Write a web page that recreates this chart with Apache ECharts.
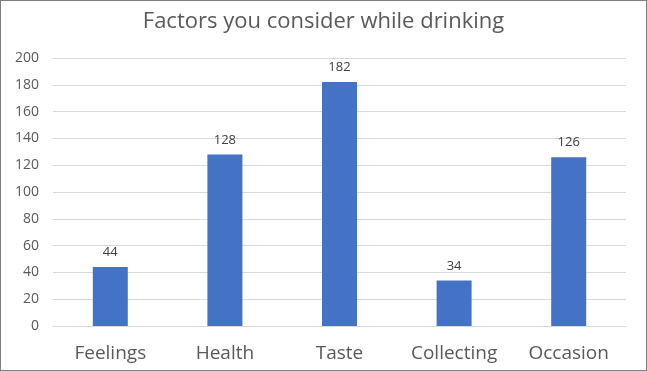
<!DOCTYPE html>
<html><head><meta charset="utf-8">
<script src="https://cdn.jsdelivr.net/npm/echarts@6/dist/echarts.min.js"></script>
<style>html,body{margin:0;padding:0;background:#fff}#c{width:645px;height:369px;border:1px solid #7f7f7f}</style>
</head><body><div id="c"></div>
<script>
var categories = ['Feelings','Health','Taste','Collecting','Occasion'];
var values = [44,128,182,34,126];
var chart = echarts.init(document.getElementById('c'));
chart.setOption({
  animation:false,
  title:{text:'Factors you consider while drinking',left:'center',top:5,textStyle:{fontFamily:'Open Sans',fontWeight:'normal',fontSize:22,color:'#595959'}},
  grid:{left:52,right:20,top:57,bottom:44,containLabel:false},
  xAxis:{type:'category',data:categories,axisTick:{show:false},axisLine:{lineStyle:{color:'#d9d9d9'}},
    axisLabel:{color:'#595959',fontSize:19,fontFamily:'Open Sans',margin:18}},
  yAxis:{type:'value',min:0,max:200,interval:20,axisLine:{show:false},axisTick:{show:false},
    splitLine:{lineStyle:{color:'#d9d9d9'}},axisLabel:{color:'#595959',fontSize:14,fontFamily:'Open Sans',margin:14}},
  series:[{type:'bar',data:values,barWidth:35,itemStyle:{color:'#4472C4'},
    label:{show:true,position:'top',color:'#404040',fontSize:13,fontFamily:'Open Sans',distance:8}}]
});
</script></body></html>
